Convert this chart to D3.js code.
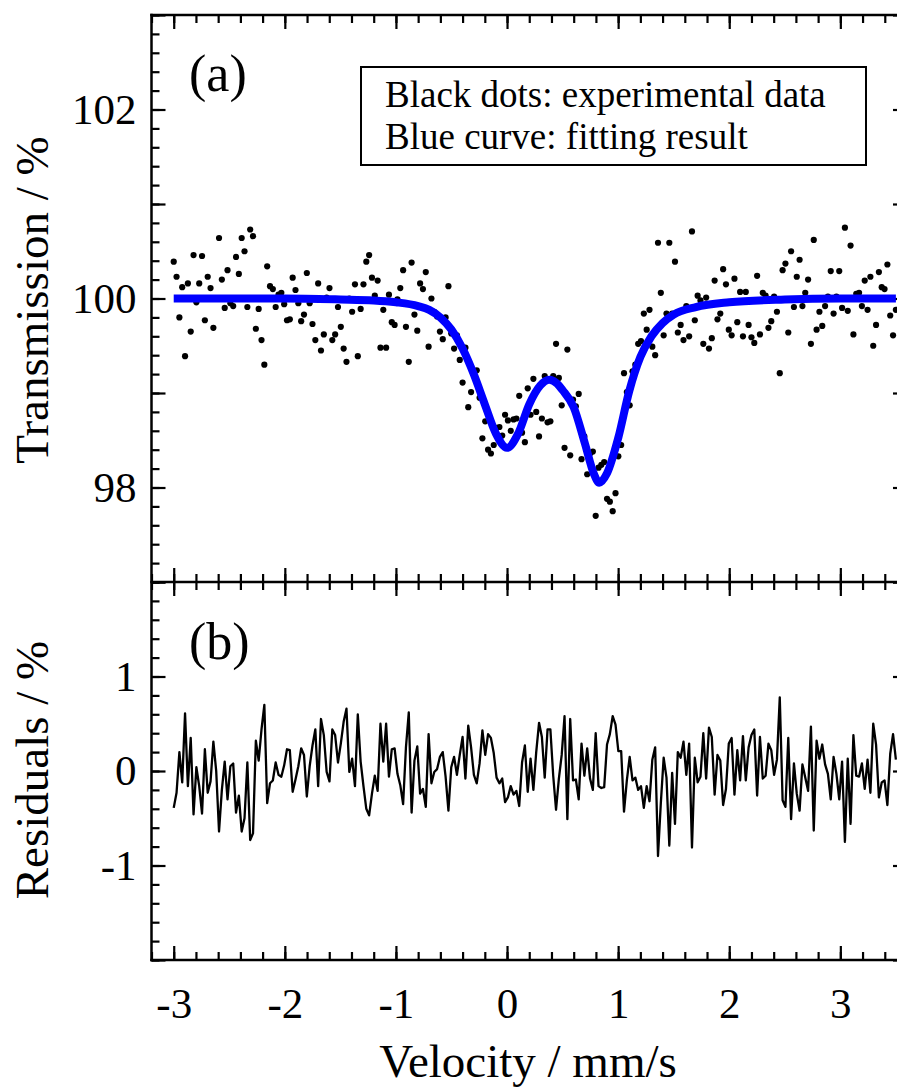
<!DOCTYPE html>
<html>
<head>
<meta charset="utf-8">
<script src="https://cdn.jsdelivr.net/npm/d3@7"></script>
<style>
  body { margin: 0; background: #fff; }
  text { font-family: "Liberation Serif", "Times New Roman", serif; fill: #000; }
</style>
</head>
<body>
<div id="chart"></div>
<script>
/* global d3 */
var w = 897;
var h = 1090;

// channel calibration: first channel velocity and step (mm/s)
var velStart = -3.0;
var velStep = 0.02549;

var transmission = [
  100.39, 100.23, 99.80, 100.12, 99.39, 100.16, 99.65, 100.46, 99.96, 100.16,
  100.45, 99.77, 100.23, 100.11, 99.69, 100.00, 100.64, 100.20, 99.90, 100.30,
  99.95, 99.92, 100.44, 100.26, 100.64, 100.50, 99.91, 100.73, 100.66, 99.68,
  99.89, 99.56, 99.30, 100.34, 100.13, 100.10, 99.91, 100.04, 100.06, 99.94,
  99.77, 99.78, 100.22, 100.09, 99.95, 99.76, 99.83, 100.27, 99.95, 99.73,
  99.56, 100.16, 99.45, 99.62, 100.01, 100.11, 99.56, 99.62, 99.91, 99.70,
  99.47, 99.33, 100.00, 99.86, 100.15, 99.39, 99.89, 100.15, 100.39, 100.46,
  100.22, 100.03, 100.19, 99.48, 99.88, 99.48, 100.04, 99.75, 99.72, 99.99,
  100.11, 100.30, 99.70, 99.33, 100.38, 99.83, 99.66, 100.16, 100.10, 100.28,
  99.49, 100.00, 99.86, 99.81, 99.65, 99.57, 99.80, 100.13, 99.63, 99.47,
  99.61, 99.35, 99.11, 99.48, 98.85, 99.01, 99.23, 99.24, 98.95, 98.52,
  98.70, 98.40, 98.36, 98.45, 98.63, 98.64, 98.55, 98.77, 98.71, 98.60,
  98.72, 98.73, 98.97, 98.58, 98.48, 99.05, 98.77, 99.15, 98.80, 98.54,
  98.73, 99.18, 98.69, 98.70, 99.18, 99.52, 99.16, 98.87, 98.42, 99.46,
  98.34, 98.93, 98.86, 98.99, 98.30, 98.54, 98.14, 98.36, 98.38, 97.70,
  98.21, 98.24, 98.27, 97.88, 97.85, 97.75, 97.94, 98.33, 98.45, 99.21,
  99.01, 98.87, 99.23, 99.30, 99.52, 99.55, 99.84, 99.67, 99.88, 99.49,
  99.40, 100.59, 100.06, 99.61, 99.84, 100.59, 99.84, 100.39, 99.64, 99.72,
  99.56, 99.92, 99.60, 100.71, 99.77, 100.03, 99.98, 99.52, 100.01, 99.47,
  99.58, 100.19, 99.78, 99.84, 100.31, 100.15, 99.67, 99.61, 100.21, 99.75,
  100.07, 99.60, 100.07, 99.72, 99.59, 99.53, 100.24, 99.62, 100.06, 100.03,
  99.69, 99.76, 100.02, 99.86, 99.21, 100.30, 100.37, 99.64, 100.50, 99.91,
  100.23, 100.41, 99.92, 100.06, 100.20, 99.52, 100.62, 99.67, 99.86, 99.71,
  99.92, 100.02, 100.29, 99.84, 100.02, 100.29, 99.90, 100.75, 99.87, 100.56,
  99.62, 100.05, 100.06, 99.92, 100.19, 99.88, 100.23, 99.50, 99.72, 100.28,
  100.12, 100.10, 100.36, 99.82, 99.61, 99.88
];

// residuals (%) per channel, panel (b)
var residuals = [
  -0.39, -0.23, 0.20, -0.12, 0.61, -0.16, 0.35, -0.46, 0.04, -0.16,
  -0.45, 0.23, -0.23, -0.11, 0.31, 0.00, -0.64, -0.20, 0.10, -0.30,
  0.05, 0.08, -0.44, -0.26, -0.64, -0.50, 0.09, -0.73, -0.66, 0.32,
  0.11, 0.44, 0.70, -0.34, -0.13, -0.10, 0.09, -0.04, -0.06, 0.06,
  0.23, 0.22, -0.22, -0.09, 0.05, 0.24, 0.17, -0.27, 0.05, 0.27,
  0.44, -0.16, 0.55, 0.38, -0.01, -0.11, 0.44, 0.38, 0.09, 0.29,
  0.52, 0.66, -0.01, 0.13, -0.16, 0.60, 0.10, -0.16, -0.40, -0.47,
  -0.24, -0.05, -0.21, 0.50, 0.10, 0.50, -0.06, 0.23, 0.24, -0.03,
  -0.15, -0.35, 0.25, 0.62, -0.44, 0.11, 0.26, -0.24, -0.19, -0.38,
  0.39, -0.13, -0.01, 0.02, 0.15, 0.20, -0.06, -0.42, 0.04, 0.15,
  -0.04, 0.17, 0.36, -0.08, 0.48, 0.25, -0.04, -0.13, 0.08, 0.43,
  0.17, 0.39, 0.35, 0.19, -0.07, -0.13, -0.08, -0.33, -0.28, -0.16,
  -0.25, -0.21, -0.37, 0.09, 0.27, -0.22, 0.13, -0.20, 0.20, 0.51,
  0.36, -0.07, 0.44, 0.44, -0.05, -0.41, -0.08, 0.17, 0.58, -0.51,
  0.55, -0.10, -0.09, -0.30, 0.29, -0.05, 0.24, -0.08, -0.20, 0.40,
  -0.16, -0.18, -0.17, 0.28, 0.39, 0.58, 0.49, 0.21, 0.21, -0.43,
  -0.10, 0.15, -0.10, -0.07, -0.20, -0.16, -0.39, -0.16, -0.32, 0.12,
  0.25, -0.90, -0.34, 0.14, -0.07, -0.79, -0.02, -0.56, 0.20, 0.14,
  0.31, -0.04, 0.29, -0.81, 0.14, -0.12, -0.06, 0.40, -0.08, 0.46,
  0.36, -0.25, 0.17, 0.11, -0.36, -0.19, 0.29, 0.35, -0.25, 0.22,
  -0.10, 0.37, -0.10, 0.25, 0.38, 0.44, -0.26, 0.36, -0.08, -0.05,
  0.29, 0.22, -0.04, 0.12, 0.78, -0.31, -0.38, 0.35, -0.51, 0.08,
  -0.24, -0.42, 0.07, -0.07, -0.21, 0.47, -0.63, 0.32, 0.13, 0.28,
  0.07, -0.03, -0.30, 0.15, -0.03, -0.30, 0.10, -0.75, 0.13, -0.56,
  0.38, -0.05, -0.06, 0.08, -0.19, 0.12, -0.23, 0.50, 0.28, -0.28,
  -0.12, -0.10, -0.36, 0.18, 0.39, 0.12
];

// fitted curve, read at knots along the blue line
var fitVel = [-3.0, -2.0, -1.5, -1.2, -1.0, -0.8, -0.7, -0.6, -0.5, -0.4, -0.3, -0.2, -0.1, 0.0,
  0.1, 0.2, 0.3, 0.38, 0.45, 0.5, 0.6, 0.7, 0.78, 0.83, 0.9, 1.0, 1.1, 1.2, 1.3, 1.4, 1.5,
  1.7, 2.0, 2.5, 3.0, 3.5];
var fitTrans = [100, 100, 99.99, 99.98, 99.96, 99.92, 99.88, 99.80, 99.67, 99.47, 99.20, 98.88, 98.57, 98.42,
  98.57, 98.88, 99.08, 99.14, 99.10, 99.03, 98.85, 98.47, 98.15, 98.05, 98.15, 98.52, 99.02, 99.38, 99.60, 99.74, 99.83,
  99.91, 99.96, 99.99, 100, 100];

var xLabels = [-3, -2, -1, 0, 1, 2, 3];
var transLabels = [98, 100, 102];
var residLabels = [-1, 0, 1];

// frame edges (px)
var xLeft = 151.5;
var xRight = 907;
var yTop = 15;
var yMid = 582;
var yBottom = 960;

var x = d3.scaleLinear().domain([-3.2, 3.6]).range([xLeft, xRight]);
var yT = d3.scaleLinear().domain([97, 103]).range([yMid, yTop]);
var yR = d3.scaleLinear().domain([-2, 2]).range([yBottom, yMid]);

var svg = d3.select('#chart')
  .append('svg')
  .attr('width', w)
  .attr('height', h);

svg.append('rect').attr('width', w).attr('height', h).attr('fill', '#fff');

var vel = transmission.map(function (d, i) { return velStart + i * velStep; });

var xMajor = d3.range(-3, 4, 1);
var xMinor = d3.range(-3.2, 3.61, 0.2);
var tMajor = d3.range(97, 103.5, 1);
var tMinor = d3.range(97, 103.01, 0.2);
var rMajor = d3.range(-2, 2.5, 1);
var rMinor = d3.range(-2, 2.01, 0.2);

function tickGroup(axis, values, size, tx, ty, fmt, pad) {
  var g = svg.append('g')
    .attr('transform', 'translate(' + tx + ',' + ty + ')')
    .call(axis.tickValues(values).tickSizeInner(size).tickSizeOuter(0)
      .tickPadding(pad || 3).tickFormat(fmt || function () { return ''; }));
  g.select('.domain').remove();
  g.selectAll('.tick line').attr('stroke', '#000').attr('stroke-width', 2.2);
  g.selectAll('.tick text').style('font-size', '43px');
  return g;
}

function labelIf(list) {
  return function (d) {
    var r = Math.round(d);
    return list.indexOf(r) >= 0 && Math.abs(d - r) < 1e-6 ? String(r) : '';
  };
}

// panel (a) ticks
tickGroup(d3.axisLeft(yT), tMinor, -8, xLeft, 0);
tickGroup(d3.axisLeft(yT), tMajor, -14, xLeft, 0, labelIf(transLabels), 15);
tickGroup(d3.axisRight(yT), tMinor, -8, xRight, 0);
tickGroup(d3.axisRight(yT), tMajor, -14, xRight, 0);
tickGroup(d3.axisBottom(x), xMinor, 8, 0, yTop);
tickGroup(d3.axisBottom(x), xMajor, 14, 0, yTop);

// divider ticks, both sides
tickGroup(d3.axisBottom(x), xMinor, 8, 0, yMid);
tickGroup(d3.axisBottom(x), xMajor, 14, 0, yMid);
tickGroup(d3.axisTop(x), xMinor, 8, 0, yMid);
tickGroup(d3.axisTop(x), xMajor, 14, 0, yMid);

// panel (b) ticks
tickGroup(d3.axisLeft(yR), rMinor, -8, xLeft, 0);
tickGroup(d3.axisLeft(yR), rMajor, -14, xLeft, 0, labelIf(residLabels), 15);
tickGroup(d3.axisRight(yR), rMinor, -8, xRight, 0);
tickGroup(d3.axisRight(yR), rMajor, -14, xRight, 0);
tickGroup(d3.axisBottom(x), xMinor, -8, 0, yBottom);
tickGroup(d3.axisBottom(x), xMajor, -14, 0, yBottom, labelIf(xLabels), 27);

// frame
var frame = [
  [[xLeft, yTop], [xRight, yTop]],
  [[xLeft, yMid], [xRight, yMid]],
  [[xLeft, yBottom], [xRight, yBottom]],
  [[xLeft, yTop], [xLeft, yBottom]],
  [[xRight, yTop], [xRight, yBottom]]
];
svg.selectAll('line.frame')
  .data(frame)
  .enter()
  .append('line')
  .attr('class', 'frame')
  .attr('x1', function (d) { return d[0][0]; })
  .attr('y1', function (d) { return d[0][1]; })
  .attr('x2', function (d) { return d[1][0]; })
  .attr('y2', function (d) { return d[1][1]; })
  .attr('stroke', '#000')
  .attr('stroke-width', 2.5)
  .attr('stroke-linecap', 'square');

// data dots
svg.append('g')
  .selectAll('circle')
  .data(transmission)
  .enter()
  .append('circle')
  .attr('cx', function (d, i) { return x(vel[i]); })
  .attr('cy', function (d) { return yT(d); })
  .attr('r', 3.1)
  .attr('fill', '#000');

// fitted curve
var fitLine = d3.line()
  .x(function (d, i) { return x(fitVel[i]); })
  .y(function (d) { return yT(d); })
  .curve(d3.curveMonotoneX);

svg.append('path')
  .attr('d', fitLine(fitTrans))
  .attr('fill', 'none')
  .attr('stroke', '#0000ff')
  .attr('stroke-width', 8);

// residuals
var resLine = d3.line()
  .x(function (d, i) { return x(vel[i]); })
  .y(function (d) { return yR(d); });

svg.append('path')
  .attr('d', resLine(residuals))
  .attr('fill', 'none')
  .attr('stroke', '#000')
  .attr('stroke-width', 2.3)
  .attr('stroke-linejoin', 'round');

// panel labels
svg.append('text').attr('x', 189).attr('y', 91).style('font-size', '52px').text('(a)');
svg.append('text').attr('x', 189).attr('y', 659).style('font-size', '52px').text('(b)');

// legend box
svg.append('rect')
  .attr('x', 361).attr('y', 67)
  .attr('width', 505).attr('height', 98)
  .attr('fill', '#fff')
  .attr('stroke', '#000')
  .attr('stroke-width', 2);
svg.append('text').attr('x', 385).attr('y', 107).style('font-size', '37px').text('Black dots: experimental data');
svg.append('text').attr('x', 385).attr('y', 149).style('font-size', '37px').text('Blue curve: fitting result');

// axis titles
svg.append('text')
  .attr('x', 528).attr('y', 1077)
  .attr('text-anchor', 'middle')
  .style('font-size', '47px')
  .text('Velocity / mm/s');
svg.append('text')
  .attr('transform', 'translate(48,300) rotate(-90)')
  .attr('text-anchor', 'middle')
  .style('font-size', '47px')
  .text('Transmission / %');
svg.append('text')
  .attr('transform', 'translate(48,770) rotate(-90)')
  .attr('text-anchor', 'middle')
  .style('font-size', '47px')
  .text('Residuals / %');
</script>
</body>
</html>
